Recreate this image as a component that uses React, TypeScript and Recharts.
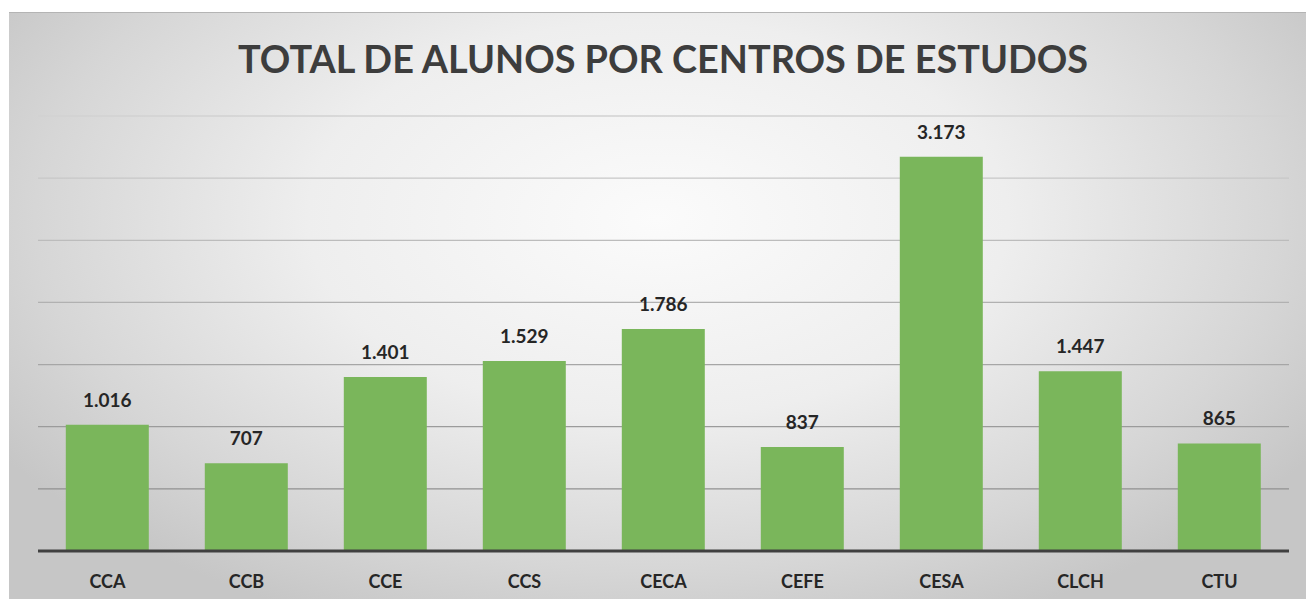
import React from "react";
import { BarChart, Bar, XAxis, YAxis, LabelList, CartesianGrid } from "recharts";

const categories = ["CCA", "CCB", "CCE", "CCS", "CECA", "CEFE", "CESA", "CLCH", "CTU"];
const alunos = [1016, 707, 1401, 1529, 1786, 837, 3173, 1447, 865];
const yTicks = [0, 500, 1000, 1500, 2000, 2500, 3000, 3500];
const title = "TOTAL DE ALUNOS POR CENTROS DE ESTUDOS";

const data = categories.map((c, i) => ({ name: c, value: alunos[i] }));

const fmt = (v: any) => String(v).replace(/\B(?=(\d{3})+(?!\d))/g, ".");

const FONT = "Lato, 'Open Sans', sans-serif";

const PLOT_TOP = 116;
const PLOT_BOTTOM = 551;

const gridColorAt = (y: number) => {
  const t = Math.max(0, Math.min(1, (y - PLOT_TOP) / (PLOT_BOTTOM - 62 - PLOT_TOP)));
  const g = Math.round(0xd2 - t * (0xd2 - 0x90));
  const h = g.toString(16).padStart(2, "0");
  return `#${h}${h}${h}`;
};

const GridLine = (props: any) => {
  const { x1, y1, x2, y2 } = props;
  return <line x1={x1} y1={y1} x2={x2} y2={y2} stroke={gridColorAt(y1)} strokeWidth={1.3} fill="none" />;
};

export default function App() {
  return (
    <div style={{ position: "absolute", top: 0, left: 0, width: 1306, height: 599, background: "#fff", overflow: "hidden" }}>
      <div
        style={{
          position: "absolute",
          left: 9,
          top: 12,
          width: 1297,
          height: 587,
          borderTop: "1px solid #b4b4b4",
          background: "radial-gradient(ellipse 60% 75% at 50% 35%, #fbfbfb 0%, #eeeeee 45%, #d6d6d6 80%, #c6c6c6 100%)",
        }}
      />
      <svg style={{ position: "absolute", left: 0, top: 0 }} width={1306} height={110}>
        <text
          x={663}
          y={73}
          textAnchor="middle"
          textLength={850}
          lengthAdjust="spacingAndGlyphs"
          style={{ fontFamily: FONT, fontWeight: 700, fontSize: 39, fill: "#3d3d3d" }}
        >
          {title}
        </text>
      </svg>
      <div style={{ position: "absolute", left: 0, top: 0 }}>
        <BarChart
          width={1306}
          height={599}
          data={data}
          margin={{ top: PLOT_TOP, right: 17, left: 38, bottom: 18 }}
          barCategoryGap="20%"
        >
          <CartesianGrid vertical={false} horizontal={(p: any) => <GridLine key={p.key ?? p.index} {...p} />} />
          <YAxis hide domain={[0, 3500]} ticks={yTicks} />
          <XAxis
            dataKey="name"
            height={30}
            tickLine={false}
            axisLine={{ stroke: "#404040", strokeWidth: 3 }}
            tickMargin={18}
            tick={{ fontFamily: FONT, fontWeight: 700, fontSize: 18, fill: "#262626" }}
          />
          <Bar dataKey="value" fill="#7ab65b" isAnimationActive={false}>
            <LabelList
              dataKey="value"
              position="top"
              offset={18}
              formatter={fmt}
              style={{ fontFamily: FONT, fontWeight: 700, fontSize: 19, fill: "#262626" }}
            />
          </Bar>
        </BarChart>
      </div>
    </div>
  );
}
